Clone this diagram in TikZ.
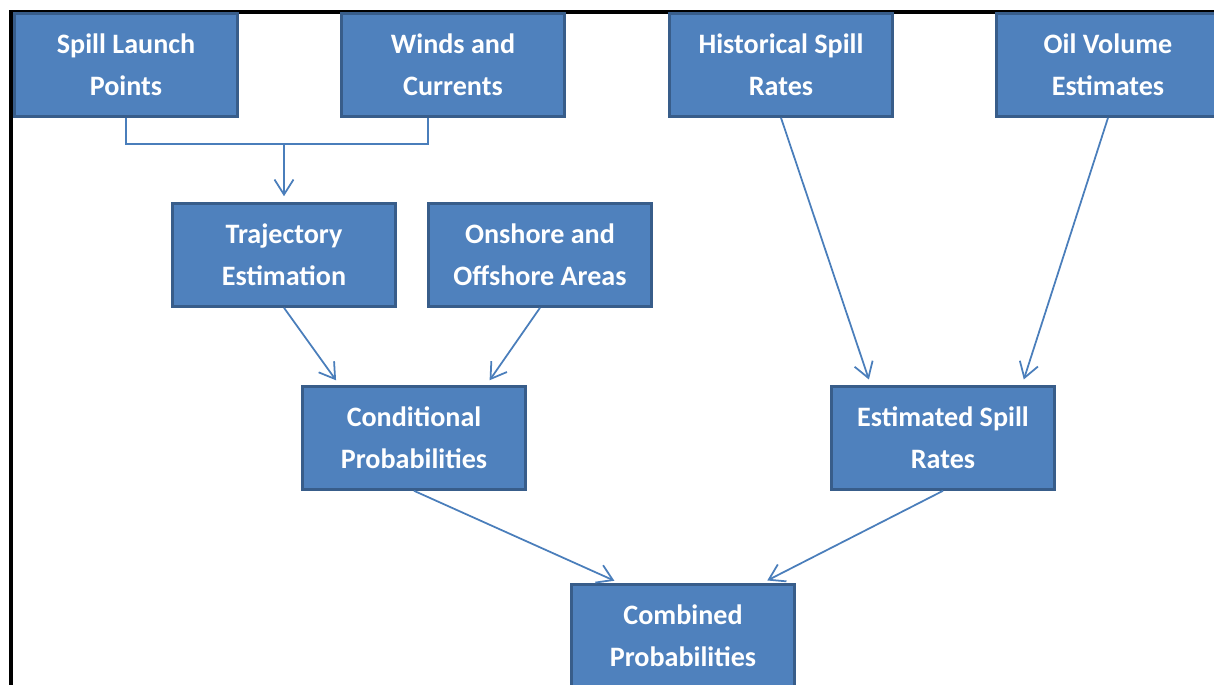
\documentclass[tikz,border=0pt]{standalone}
\usepackage{fontspec}
\setmainfont{Carlito}
\usepackage{tikz}
\usetikzlibrary{positioning}
\usetikzlibrary{calc}
\usetikzlibrary{arrows.meta}

\definecolor{boxfill}{HTML}{4F81BD}
\definecolor{boxline}{HTML}{385D8A}
\definecolor{linkcol}{HTML}{4A7EBB}

\begin{document}
\begin{tikzpicture}[
        x = 0.02cm, y = -0.02cm,
        box/.style = {
            draw = boxline,
            fill = boxfill,
            line width = 1.5pt,
            text = white,
            align = center,
            font = \fontsize{16}{24}\selectfont\bfseries,
            minimum width = 4.46cm,
            minimum height = 2.06cm,
            inner sep = 0pt
        },
        link/.style = {
            draw = linkcol,
            line width = 1pt
        },
        conn/.style = {
            link,
            -{Straight Barb[length=3mm, width=3.8mm]},
            shorten > = 0.12cm
        }
        ]
%
        \useasboundingbox (0,0) rectangle (1214,685);
        \clip (0,0) rectangle (1214,685);
        \draw[line width = 1.8pt] (11,690) -- (11,12) -- (1220,12);
%
        \node[box] (spill) at (126,65) {Spill Launch\\Points};
        \node[box] (winds) at (453,65) {Winds and\\Currents};
        \node[box] (hist)  at (781,65) {Historical Spill\\Rates};
        \node[box] (oil)   at (1108,65) {Oil Volume\\Estimates};
%
        \node[box] (traj)    at (284,255) {Trajectory\\Estimation};
        \node[box] (onshore) at (540,255) {Onshore and\\Offshore Areas};
%
        \node[box] (cond) at (414,438) {Conditional\\Probabilities};
        \node[box] (est)  at (943,438) {Estimated Spill\\Rates};
%
        \node[box] (comb) at (683,636) {Combined\\Probabilities};
%
        \coordinate (join) at (284,144);
        \draw[link] (spill.south) |- (join) -| ($(winds.south west)!0.39!(winds.south east)$);
        \draw[conn] (join) -- (traj.north);
%
        \draw[conn] (traj.south) -- ($(cond.north west)!0.17!(cond.north east)$);
        \draw[conn] (onshore.south) -- ($(cond.north west)!0.82!(cond.north east)$);
%
        \draw[conn] (hist.south) -- ($(est.north west)!0.18!(est.north east)$);
        \draw[conn] (oil.south) -- ($(est.north west)!0.85!(est.north east)$);
%
        \draw[conn] (cond.south) -- ($(comb.north west)!0.22!(comb.north east)$);
        \draw[conn] (est.south) -- ($(comb.north west)!0.85!(comb.north east)$);
%
    \end{tikzpicture}
\end{document}
